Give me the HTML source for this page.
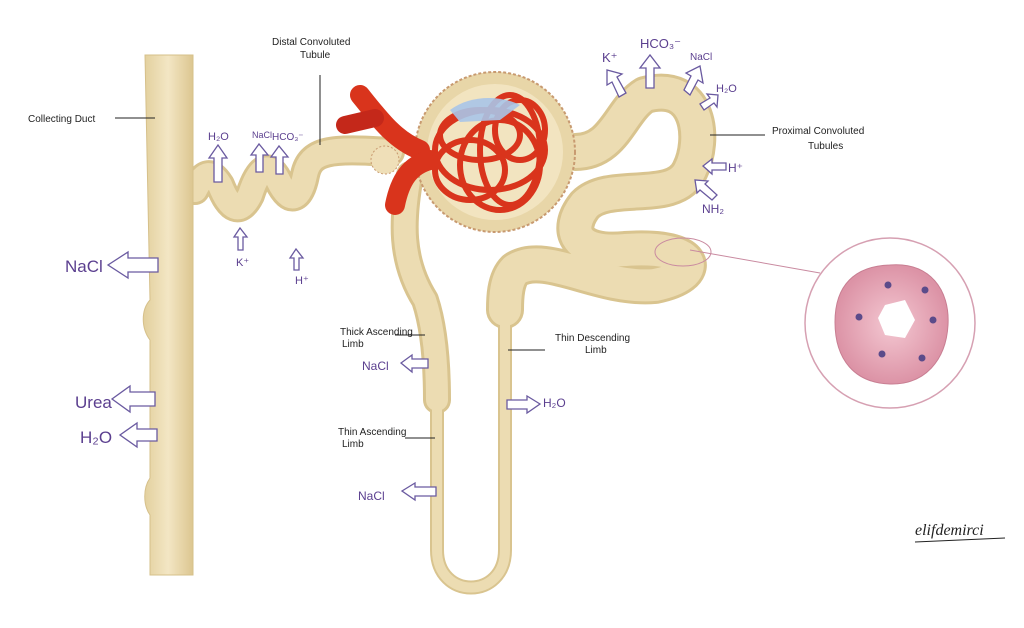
<!DOCTYPE html>
<html><head><meta charset="utf-8"><style>
html,body{margin:0;padding:0;background:#fff;}
svg{display:block;}
.p{font-family:"Liberation Sans",sans-serif;fill:#5b3f8f;}
.k{font-family:"Liberation Sans",sans-serif;fill:#222;font-size:10px;}
.ar{fill:#fff;stroke:#6a5aa0;stroke-width:1.3;}
</style></head><body>
<svg width="1024" height="628" viewBox="0 0 1024 628" xmlns="http://www.w3.org/2000/svg">
<defs>
<linearGradient id="cd" x1="0" x2="1"><stop offset="0" stop-color="#e2cf9c"/><stop offset="0.5" stop-color="#f3e6c4"/><stop offset="1" stop-color="#dcc690"/></linearGradient>
<radialGradient id="pk"><stop offset="0" stop-color="#f4c8d2"/><stop offset="1" stop-color="#dc93a6"/></radialGradient>
</defs>
<g fill="none" stroke-linecap="round" stroke-linejoin="round">
<g stroke="#d9c48f">
<path d="M195,190 C205,170 212,172 220,185 C230,210 240,215 250,195 C258,170 268,160 278,180 C290,205 300,200 305,175 C310,150 330,148 390,152" stroke-width="30"/>
<path d="M410,175 C402,220 400,260 425,300 C435,330 437,370 437,400" stroke-width="28"/>
<path d="M437,400 L437,550 C437,600 505,600 505,550 L505,300" stroke-width="14"/>
<path d="M575,152 C615,152 620,110 645,95 C700,80 705,140 690,170 C675,205 610,180 585,205 C565,230 575,255 625,250 C700,245 705,275 655,285 C600,290 545,250 515,270 C505,280 505,300 505,310" stroke-width="38"/>
</g>
<g stroke="#ecdcb2">
<path d="M195,190 C205,170 212,172 220,185 C230,210 240,215 250,195 C258,170 268,160 278,180 C290,205 300,200 305,175 C310,150 330,148 390,152" stroke-width="24"/>
<path d="M410,175 C402,220 400,260 425,300 C435,330 437,370 437,400" stroke-width="22"/>
<path d="M437,400 L437,550 C437,600 505,600 505,550 L505,300" stroke-width="10"/>
<path d="M575,152 C615,152 620,110 645,95 C700,80 705,140 690,170 C675,205 610,180 585,205 C565,230 575,255 625,250 C700,245 705,275 655,285 C600,290 545,250 515,270 C505,280 505,300 505,310" stroke-width="32"/>
</g>
</g>
<path d="M145,55 L193,55 L193,575 L150,575 L150,515 C143,505 143,488 150,478 L150,340 C141,328 141,310 150,300 L145,55 Z" fill="url(#cd)" stroke="#d6c08a"/>
<circle cx="495" cy="152" r="80" fill="#e8d6a8" stroke="#c89a70" stroke-width="2" stroke-dasharray="3 2"/>
<circle cx="495" cy="152" r="68" fill="#f2e4c0"/>
<circle cx="385" cy="160" r="14" fill="#efdfb8" stroke="#c89a70" stroke-dasharray="2 2"/>
<g fill="none" stroke="#d9341c" stroke-linecap="round">
<path d="M360,95 C380,120 395,140 420,150" stroke-width="20"/>
<path d="M395,205 C400,180 410,165 430,160" stroke-width="20"/>
<path d="M345,125 L375,118" stroke-width="18" stroke="#c4281a"/>
<g stroke-width="6">
<ellipse cx="490" cy="150" rx="55" ry="40"/>
<ellipse cx="500" cy="165" rx="40" ry="45"/>
<ellipse cx="480" cy="135" rx="40" ry="25"/>
<ellipse cx="510" cy="150" rx="30" ry="55"/>
<ellipse cx="470" cy="170" rx="35" ry="30"/>
<ellipse cx="520" cy="130" rx="25" ry="30"/>
</g>
</g>
<path d="M450,110 C470,95 500,95 520,105 L500,120 L460,122 Z" fill="#a8c4e8" opacity="0.9"/>
<line x1="690" y1="250" x2="820" y2="273" stroke="#c98aa0"/>
<ellipse cx="683" cy="252" rx="28" ry="14" fill="none" stroke="#c98aa0"/>
<circle cx="890" cy="323" r="85" fill="#fff" stroke="#d6a0b2" stroke-width="1.5"/>
<path d="M890,265 C930,262 950,290 948,325 C946,360 925,385 890,384 C855,383 835,360 835,322 C835,285 855,266 890,265 Z" fill="url(#pk)" stroke="#c87e92"/>
<path d="M885,305 L905,300 L915,320 L905,338 L885,335 L878,318 Z" fill="#fff"/>
<g fill="#5b4b8a"><circle cx="888" cy="285" r="3.5"/><circle cx="925" cy="290" r="3.5"/><circle cx="859" cy="317" r="3.5"/><circle cx="933" cy="320" r="3.5"/><circle cx="882" cy="354" r="3.5"/><circle cx="922" cy="358" r="3.5"/></g>
<g stroke="#222" stroke-width="1">
<line x1="115" y1="118" x2="155" y2="118"/>
<line x1="320" y1="75" x2="320" y2="145"/>
<line x1="710" y1="135" x2="765" y2="135"/>
<line x1="395" y1="335" x2="425" y2="335"/>
<line x1="508" y1="350" x2="545" y2="350"/>
<line x1="405" y1="438" x2="435" y2="438"/>
</g>
<text class="k" x="28" y="122">Collecting Duct</text>
<text class="k" x="272" y="45" font-size="11">Distal Convoluted</text>
<text class="k" x="300" y="58">Tubule</text>
<text class="k" x="772" y="134" font-size="11">Proximal Convoluted</text>
<text class="k" x="808" y="149">Tubules</text>
<text class="k" x="340" y="335" font-size="9">Thick Ascending</text>
<text class="k" x="342" y="347" font-size="9">Limb</text>
<text class="k" x="555" y="341" font-size="9">Thin Descending</text>
<text class="k" x="585" y="353" font-size="9">Limb</text>
<text class="k" x="338" y="435" font-size="9">Thin Ascending</text>
<text class="k" x="342" y="447" font-size="9">Limb</text>
<text x="915" y="535" font-family="Liberation Serif" font-style="italic" font-size="16" fill="#222">elifdemirci</text>
<line x1="915" y1="542" x2="1005" y2="538" stroke="#222"/>
<text class="p" x="65" y="272" font-size="17">NaCl</text>
<text class="p" x="75" y="408" font-size="17">Urea</text>
<text class="p" x="80" y="443" font-size="17">H₂O</text>
<text class="p" x="208" y="140" font-size="11">H₂O</text>
<text class="p" x="252" y="138" font-size="9">NaCl</text>
<text class="p" x="272" y="140" font-size="10">HCO₃⁻</text>
<text class="p" x="236" y="266" font-size="11">K⁺</text>
<text class="p" x="295" y="284" font-size="11">H⁺</text>
<text class="p" x="362" y="370" font-size="12">NaCl</text>
<text class="p" x="358" y="500" font-size="12">NaCl</text>
<text class="p" x="543" y="407" font-size="12">H₂O</text>
<text class="p" x="602" y="62" font-size="13">K⁺</text>
<text class="p" x="640" y="48" font-size="13">HCO₃⁻</text>
<text class="p" x="690" y="60" font-size="10">NaCl</text>
<text class="p" x="716" y="92" font-size="11">H₂O</text>
<text class="p" x="728" y="172" font-size="12">H⁺</text>
<text class="p" x="702" y="213" font-size="12">NH₂</text>
<g class="ar">
<path d="M158,258 L158,272 L128,272 L128,278 L108,265 L128,252 L128,258 Z"/>
<path d="M155,392 L155,406 L130,406 L130,412 L112,399 L130,386 L130,392 Z"/>
<path d="M157,429 L157,441 L137,441 L137,447 L120,435 L137,423 L137,429 Z"/>
<path d="M214,182 L222,182 L222,158 L227,158 L218,145 L209,158 L214,158 Z"/>
<path d="M256,172 L263,172 L263,155 L268,155 L259,144 L251,155 L256,155 Z"/>
<path d="M276,174 L283,174 L283,157 L288,157 L279,146 L271,157 L276,157 Z"/>
<path d="M238,250 L243,250 L243,237 L247,237 L240,228 L234,237 L238,237 Z"/>
<path d="M294,270 L299,270 L299,258 L303,258 L296,249 L290,258 L294,258 Z"/>
<path d="M428,359 L428,368 L412,368 L412,372 L401,363 L412,355 L412,359 Z"/>
<path d="M436,487 L436,496 L415,496 L415,500 L402,491 L415,483 L415,487 Z"/>
<path d="M507,400 L507,409 L527,409 L527,413 L540,404 L527,396 L527,400 Z"/>
<path d="M619,97 L626,93 L617,77 L622,74 L607,70 L607,85 L612,82 Z"/>
<path d="M646,88 L654,88 L654,68 L660,68 L650,55 L640,68 L646,68 Z"/>
<path d="M684,90 L690,95 L698,80 L703,83 L700,66 L686,73 L691,76 Z"/>
<path d="M700,104 L704,110 L714,103 L717,107 L718,95 L707,94 L710,98 Z"/>
<path d="M726,163 L726,170 L712,170 L712,174 L703,166 L712,159 L712,163 Z"/>
<path d="M712,200 L717,195 L705,184 L708,181 L695,180 L697,193 L700,190 Z"/>
</g>
</svg>
</body></html>
